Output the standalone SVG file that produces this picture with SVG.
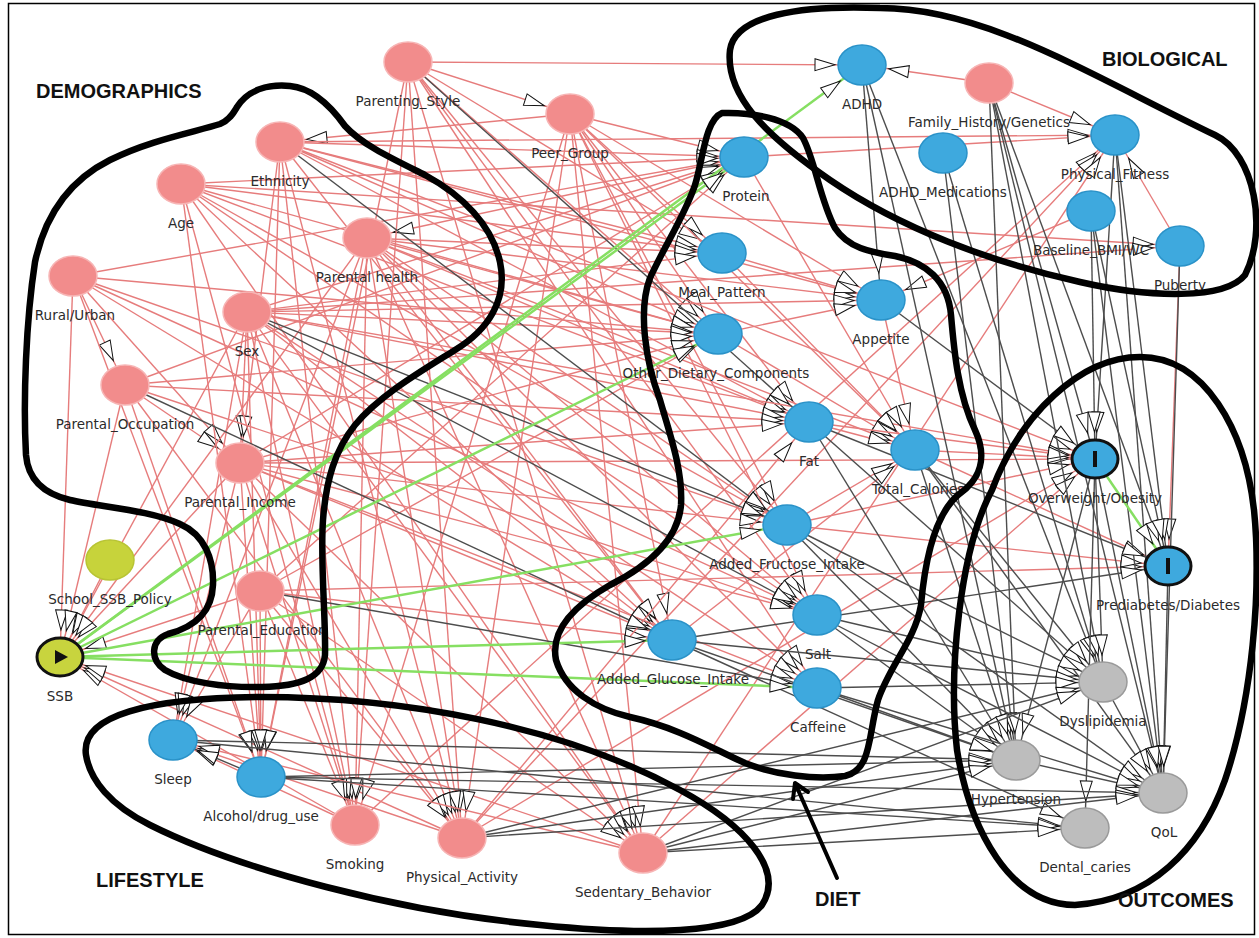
<svg xmlns="http://www.w3.org/2000/svg" width="1259" height="938" viewBox="0 0 1259 938">
<defs>
<marker id="ah" markerUnits="userSpaceOnUse" viewBox="0 0 80 14" markerWidth="80" markerHeight="14" refX="47" refY="7" orient="auto" overflow="visible">
<path d="M0,1 L20,7 L0,13 Z" fill="#fff" stroke="#111" stroke-width="1"/>
</marker>
</defs>
<style>
.e path{fill:none;stroke-width:1.4;marker-end:url(#ah)}
.p path{stroke:#e67c7c}
.d path{stroke:#4d4d4d}
.g path{stroke:#86df62;stroke-width:2.5}
.pk{fill:#f28c8c;stroke:#f7b5b5;stroke-width:1.5}
.bl{fill:#3ea9de;stroke:#2a92c8;stroke-width:1.5}
.gy{fill:#bdbdbd;stroke:#9a9a9a;stroke-width:1.5}
.yl{fill:#c7d33b;stroke:#b8c434;stroke-width:1.5}
.ex{fill:#c8d43e;stroke:#111;stroke-width:3}
.oc{fill:#3ea9de;stroke:#111;stroke-width:3}
.lb{font-family:"DejaVu Sans",sans-serif;font-size:13.5px;fill:#2b2b2b;text-anchor:middle}
.tt{font-family:"Liberation Sans",Arial,sans-serif;font-weight:bold;font-size:20px;fill:#111}
.ol{fill:none;stroke:#000;stroke-width:6.5;stroke-linejoin:round;stroke-linecap:round}
</style>
<rect x="0" y="0" width="1259" height="938" fill="#fff"/>
<rect x="8.5" y="3.5" width="1246" height="931" fill="none" stroke="#000" stroke-width="1.5"/>

<g id="connectors">
<g class="e p">
<path d="M73 276L125 385"/><path d="M125 385L240 463"/><path d="M73 276L240 463"/><path d="M247 312L240 463"/><path d="M280 142L240 463"/>
<path d="M570 114L280 142"/><path d="M744 157L367 238"/>
<path d="M408 62L570 114"/><path d="M73 276L744 157"/>
<path d="M73 276L60 657"/><path d="M110 560L60 657"/><path d="M125 385L60 657"/><path d="M240 463L60 657"/><path d="M260 591L60 657"/><path d="M247 312L60 657"/><path d="M367 238L60 657"/><path d="M355 825L60 657"/><path d="M462 838L60 657"/><path d="M643 853L60 657"/>
<path d="M408 62L862 65"/><path d="M408 62L722 253"/><path d="M408 62L817 615"/><path d="M408 62L817 688"/><path d="M408 62L787 525"/><path d="M408 62L355 825"/><path d="M408 62L462 838"/><path d="M408 62L643 853"/><path d="M408 62L261 777"/><path d="M408 62L718 334"/>
<path d="M570 114L744 157"/><path d="M570 114L722 253"/><path d="M570 114L718 334"/><path d="M570 114L881 300"/><path d="M570 114L809 422"/><path d="M570 114L787 525"/><path d="M570 114L817 615"/><path d="M570 114L672 640"/><path d="M570 114L355 825"/><path d="M570 114L462 838"/><path d="M570 114L643 853"/><path d="M570 114L915 450"/>
<path d="M280 142L744 157"/><path d="M280 142L722 253"/><path d="M280 142L718 334"/><path d="M280 142L881 300"/><path d="M280 142L809 422"/><path d="M280 142L672 640"/><path d="M280 142L261 777"/><path d="M280 142L355 825"/><path d="M280 142L462 838"/><path d="M280 142L1115 135"/><path d="M280 142L1095 459"/>
<path d="M181 184L744 157"/><path d="M181 184L722 253"/><path d="M181 184L718 334"/><path d="M181 184L809 422"/><path d="M181 184L787 525"/><path d="M181 184L817 615"/><path d="M181 184L672 640"/><path d="M181 184L261 777"/><path d="M181 184L355 825"/><path d="M181 184L643 853"/><path d="M181 184L1180 246"/>
<path d="M367 238L722 253"/><path d="M367 238L718 334"/><path d="M367 238L881 300"/><path d="M367 238L809 422"/><path d="M367 238L787 525"/><path d="M367 238L817 615"/><path d="M367 238L672 640"/><path d="M367 238L817 688"/><path d="M367 238L173 740"/><path d="M367 238L261 777"/><path d="M367 238L355 825"/><path d="M367 238L462 838"/><path d="M367 238L643 853"/><path d="M367 238L915 450"/>
<path d="M73 276L787 525"/><path d="M73 276L817 615"/><path d="M73 276L672 640"/><path d="M73 276L261 777"/><path d="M73 276L718 334"/>
<path d="M247 312L744 157"/><path d="M247 312L722 253"/><path d="M247 312L718 334"/><path d="M247 312L881 300"/><path d="M247 312L809 422"/><path d="M247 312L672 640"/><path d="M247 312L817 688"/><path d="M247 312L173 740"/><path d="M247 312L261 777"/><path d="M247 312L355 825"/><path d="M247 312L462 838"/><path d="M247 312L643 853"/><path d="M247 312L1180 246"/><path d="M247 312L1095 459"/>
<path d="M125 385L744 157"/><path d="M125 385L718 334"/><path d="M125 385L809 422"/><path d="M125 385L817 615"/><path d="M125 385L261 777"/><path d="M125 385L462 838"/>
<path d="M240 463L744 157"/><path d="M240 463L718 334"/><path d="M240 463L809 422"/><path d="M240 463L787 525"/><path d="M240 463L817 615"/><path d="M240 463L672 640"/><path d="M240 463L817 688"/><path d="M240 463L173 740"/><path d="M240 463L261 777"/><path d="M240 463L355 825"/><path d="M240 463L462 838"/><path d="M240 463L643 853"/><path d="M240 463L1095 459"/>
<path d="M260 591L744 157"/><path d="M260 591L718 334"/><path d="M260 591L672 640"/><path d="M260 591L173 740"/><path d="M260 591L261 777"/><path d="M260 591L355 825"/><path d="M260 591L462 838"/><path d="M260 591L643 853"/><path d="M260 591L1168 566"/>
<path d="M989 83L862 65"/><path d="M989 83L1115 135"/>
<path d="M355 825L173 740"/><path d="M462 838L173 740"/><path d="M643 853L173 740"/><path d="M355 825L1115 135"/><path d="M462 838L1115 135"/><path d="M643 853L1115 135"/><path d="M462 838L1095 459"/><path d="M643 853L1095 459"/><path d="M462 838L809 422"/>
<path d="M744 157L1115 135"/><path d="M1180 246L1115 135"/><path d="M1091 211L881 300"/><path d="M1180 246L1168 566"/>
<path d="M744 157L915 450"/><path d="M722 253L915 450"/><path d="M881 300L915 450"/><path d="M718 334L915 450"/><path d="M809 422L915 450"/><path d="M787 525L915 450"/><path d="M672 640L915 450"/><path d="M722 253L881 300"/><path d="M718 334L881 300"/>
<path d="M915 450L1095 459"/><path d="M809 422L1095 459"/><path d="M787 525L1095 459"/><path d="M787 525L1168 566"/><path d="M915 450L1168 566"/>
</g>
<g class="e d">
<path d="M408 62L809 422"/><path d="M280 142L787 525"/><path d="M247 312L787 525"/><path d="M247 312L817 615"/><path d="M125 385L672 640"/><path d="M260 591L817 688"/><path d="M862 65L881 300"/><path d="M261 777L173 740"/>
<path d="M862 65L1103 682"/><path d="M862 65L1016 760"/><path d="M943 153L1016 760"/><path d="M943 153L1103 682"/>
<path d="M989 83L1095 459"/><path d="M989 83L1168 566"/><path d="M989 83L1016 760"/><path d="M989 83L1103 682"/><path d="M989 83L1163 793"/>
<path d="M1115 135L1095 459"/><path d="M1115 135L1168 566"/><path d="M1115 135L1163 793"/>
<path d="M1091 211L1095 459"/><path d="M1091 211L1168 566"/><path d="M1091 211L1163 793"/><path d="M1180 246L1163 793"/>
<path d="M1095 459L1103 682"/><path d="M1095 459L1016 760"/><path d="M1095 459L1163 793"/><path d="M1095 459L1085 828"/><path d="M1168 566L1163 793"/><path d="M1103 682L1163 793"/><path d="M1016 760L1163 793"/>
<path d="M809 422L1016 760"/><path d="M809 422L1103 682"/><path d="M809 422L1168 566"/>
<path d="M915 450L1103 682"/><path d="M915 450L1016 760"/><path d="M915 450L1163 793"/><path d="M881 300L1095 459"/>
<path d="M787 525L1103 682"/><path d="M787 525L1016 760"/><path d="M787 525L1163 793"/>
<path d="M817 615L1103 682"/><path d="M817 615L1016 760"/><path d="M817 615L1163 793"/>
<path d="M672 640L1103 682"/><path d="M672 640L1016 760"/><path d="M672 640L1085 828"/><path d="M672 640L1168 566"/>
<path d="M817 688L1016 760"/><path d="M817 688L1163 793"/><path d="M817 688L1103 682"/>
<path d="M173 740L1016 760"/><path d="M173 740L1085 828"/>
<path d="M261 777L1016 760"/><path d="M261 777L1085 828"/><path d="M261 777L1163 793"/>
<path d="M462 838L1016 760"/><path d="M462 838L1103 682"/><path d="M462 838L1163 793"/>
<path d="M643 853L1016 760"/><path d="M643 853L1103 682"/><path d="M643 853L1163 793"/><path d="M643 853L1085 828"/>
</g>
<g class="e g">
<path d="M60 657L862 65"/><path d="M60 657L744 157"/><path d="M60 657L718 334"/><path d="M60 657L787 525"/><path d="M60 657L672 640"/><path d="M60 657L817 688"/><path d="M1095 459L1168 566"/>
</g>
</g>

<g id="nodes">
<g id="n-parenting-style"><ellipse class="pk" cx="408" cy="62" rx="24" ry="20"/><text class="lb" x="408" y="106">Parenting_Style</text></g>
<g id="n-peer-group"><ellipse class="pk" cx="570" cy="114" rx="24" ry="20"/><text class="lb" x="570" y="158">Peer_Group</text></g>
<g id="n-ethnicity"><ellipse class="pk" cx="280" cy="142" rx="24" ry="20"/><text class="lb" x="280" y="186">Ethnicity</text></g>
<g id="n-age"><ellipse class="pk" cx="181" cy="184" rx="24" ry="20"/><text class="lb" x="181" y="228">Age</text></g>
<g id="n-parental-health"><ellipse class="pk" cx="367" cy="238" rx="24" ry="20"/><text class="lb" x="367" y="282">Parental health</text></g>
<g id="n-rural-urban"><ellipse class="pk" cx="73" cy="276" rx="24" ry="20"/><text class="lb" x="75" y="320">Rural/Urban</text></g>
<g id="n-sex"><ellipse class="pk" cx="247" cy="312" rx="24" ry="20"/><text class="lb" x="247" y="356">Sex</text></g>
<g id="n-parental-occupation"><ellipse class="pk" cx="125" cy="385" rx="24" ry="20"/><text class="lb" x="125" y="429">Parental_Occupation</text></g>
<g id="n-parental-income"><ellipse class="pk" cx="240" cy="463" rx="24" ry="20"/><text class="lb" x="240" y="507">Parental_Income</text></g>
<g id="n-school-ssb-policy"><ellipse class="yl" cx="110" cy="560" rx="24" ry="20"/><text class="lb" x="110" y="604">School_SSB_Policy</text></g>
<g id="n-parental-education"><ellipse class="pk" cx="260" cy="591" rx="24" ry="20"/><text class="lb" x="262" y="635">Parental_Education</text></g>
<g id="n-ssb"><ellipse class="ex" cx="60" cy="657" rx="23" ry="19"/><polygon points="55,650 68,657 55,664" fill="#111"/><text class="lb" x="60" y="701">SSB</text></g>
<g id="n-sleep"><ellipse class="bl" cx="173" cy="740" rx="24" ry="20"/><text class="lb" x="173" y="784">Sleep</text></g>
<g id="n-alcohol"><ellipse class="bl" cx="261" cy="777" rx="24" ry="20"/><text class="lb" x="261" y="821">Alcohol/drug_use</text></g>
<g id="n-smoking"><ellipse class="pk" cx="355" cy="825" rx="24" ry="20"/><text class="lb" x="355" y="869">Smoking</text></g>
<g id="n-physical-activity"><ellipse class="pk" cx="462" cy="838" rx="24" ry="20"/><text class="lb" x="462" y="882">Physical_Activity</text></g>
<g id="n-sedentary-behavior"><ellipse class="pk" cx="643" cy="853" rx="24" ry="20"/><text class="lb" x="643" y="897">Sedentary_Behavior</text></g>
<g id="n-adhd"><ellipse class="bl" cx="862" cy="65" rx="24" ry="20"/><text class="lb" x="862" y="109">ADHD</text></g>
<g id="n-family-history"><ellipse class="pk" cx="989" cy="83" rx="24" ry="20"/><text class="lb" x="989" y="127">Family_History/Genetics</text></g>
<g id="n-physical-fitness"><ellipse class="bl" cx="1115" cy="135" rx="24" ry="20"/><text class="lb" x="1115" y="179">Physical_Fitness</text></g>
<g id="n-adhd-medications"><ellipse class="bl" cx="943" cy="153" rx="24" ry="20"/><text class="lb" x="943" y="197">ADHD_Medications</text></g>
<g id="n-protein"><ellipse class="bl" cx="744" cy="157" rx="24" ry="20"/><text class="lb" x="746" y="201">Protein</text></g>
<g id="n-baseline-bmi"><ellipse class="bl" cx="1091" cy="211" rx="24" ry="20"/><text class="lb" x="1091" y="255">Baseline_BMI/WC</text></g>
<g id="n-puberty"><ellipse class="bl" cx="1180" cy="246" rx="24" ry="20"/><text class="lb" x="1180" y="290">Puberty</text></g>
<g id="n-meal-pattern"><ellipse class="bl" cx="722" cy="253" rx="24" ry="20"/><text class="lb" x="722" y="297">Meal_Pattern</text></g>
<g id="n-appetite"><ellipse class="bl" cx="881" cy="300" rx="24" ry="20"/><text class="lb" x="881" y="344">Appetite</text></g>
<g id="n-other-dietary"><ellipse class="bl" cx="718" cy="334" rx="24" ry="20"/><text class="lb" x="716" y="378">Other_Dietary_Components</text></g>
<g id="n-fat"><ellipse class="bl" cx="809" cy="422" rx="24" ry="20"/><text class="lb" x="809" y="466">Fat</text></g>
<g id="n-total-calories"><ellipse class="bl" cx="915" cy="450" rx="24" ry="20"/><text class="lb" x="918" y="494">Total_Calories</text></g>
<g id="n-overweight"><ellipse class="oc" cx="1095" cy="459" rx="23" ry="19"/><rect x="1093" y="451" width="4" height="16" fill="#111"/><text class="lb" x="1095" y="503">Overweight/Obesity</text></g>
<g id="n-added-fructose"><ellipse class="bl" cx="787" cy="525" rx="24" ry="20"/><text class="lb" x="787" y="569">Added_Fructose_Intake</text></g>
<g id="n-prediabetes"><ellipse class="oc" cx="1168" cy="566" rx="23" ry="19"/><rect x="1166" y="558" width="4" height="16" fill="#111"/><text class="lb" x="1168" y="610">Prediabetes/Diabetes</text></g>
<g id="n-salt"><ellipse class="bl" cx="817" cy="615" rx="24" ry="20"/><text class="lb" x="818" y="659">Salt</text></g>
<g id="n-added-glucose"><ellipse class="bl" cx="672" cy="640" rx="24" ry="20"/><text class="lb" x="673" y="684">Added_Glucose_Intake</text></g>
<g id="n-caffeine"><ellipse class="bl" cx="817" cy="688" rx="24" ry="20"/><text class="lb" x="818" y="732">Caffeine</text></g>
<g id="n-dyslipidemia"><ellipse class="gy" cx="1103" cy="682" rx="24" ry="20"/><text class="lb" x="1103" y="726">Dyslipidemia</text></g>
<g id="n-hypertension"><ellipse class="gy" cx="1016" cy="760" rx="24" ry="20"/><text class="lb" x="1016" y="804">Hypertension</text></g>
<g id="n-qol"><ellipse class="gy" cx="1163" cy="793" rx="24" ry="20"/><text class="lb" x="1164" y="837">QoL</text></g>
<g id="n-dental-caries"><ellipse class="gy" cx="1085" cy="828" rx="24" ry="20"/><text class="lb" x="1085" y="872">Dental_caries</text></g>
</g>

<g id="groups">
<path class="ol" d="M237,107 C248,90 268,84 290,86 C312,88 330,105 345,126 C362,145 395,160 425,175 C462,195 492,225 500,262 C508,300 488,330 455,350 C420,372 380,395 355,425 C335,450 326,480 323,520 C320,560 326,620 325,655 C323,678 300,686 262,687 C225,688 185,682 165,670 C150,660 150,640 168,634 C195,627 212,612 213,585 C214,560 205,535 180,524 C150,510 100,507 70,500 C45,494 28,480 26,455 C23,400 26,320 35,262 C45,215 70,180 110,160 C150,140 195,132 220,124 C230,120 234,112 237,107 Z"/>
<path class="ol" d="M722,113 C750,112 790,118 803,138 C815,160 820,200 835,228 C848,248 870,252 895,256 C925,262 948,280 951,315 C954,350 958,395 975,430 C988,458 980,480 958,495 C935,515 925,560 921,605 C915,640 890,665 878,700 C868,735 872,770 845,776 C815,780 775,775 745,763 C715,750 680,728 630,717 C595,709 565,690 556,660 C550,630 575,605 610,585 C650,565 678,540 681,505 C683,470 670,435 660,400 C645,360 638,310 650,278 C665,245 685,215 695,185 C703,160 705,120 722,113 Z"/>
<path class="ol" d="M730,50 C735,15 800,5 880,8 C985,8 1090,75 1215,135 C1255,154 1268,230 1245,275 C1225,300 1150,298 1080,282 C990,262 900,228 830,180 C765,135 725,95 730,50 Z"/>
<path class="ol" d="M1140,357 C1205,357 1245,430 1254,510 C1262,590 1252,700 1225,780 C1200,850 1150,900 1075,905 C1010,905 970,830 957,750 C948,670 960,550 992,490 C1020,415 1080,357 1140,357 Z"/>
<path class="ol" d="M86,755 C80,715 150,698 260,697 C400,697 560,725 680,790 C745,825 785,870 762,905 C740,935 640,935 540,925 C400,912 240,870 150,825 C110,805 90,780 86,755 Z"/>
<path d="M837,878 L795,783 M793,799 L795,783 L808,792" fill="none" stroke="#000" stroke-width="4" stroke-linecap="round" stroke-linejoin="round"/>
<text class="tt" x="36" y="98">DEMOGRAPHICS</text>
<text class="tt" x="1102" y="66">BIOLOGICAL</text>
<text class="tt" x="96" y="887">LIFESTYLE</text>
<text class="tt" x="815" y="906">DIET</text>
<text class="tt" x="1118" y="907">OUTCOMES</text>
</g>
</svg>
